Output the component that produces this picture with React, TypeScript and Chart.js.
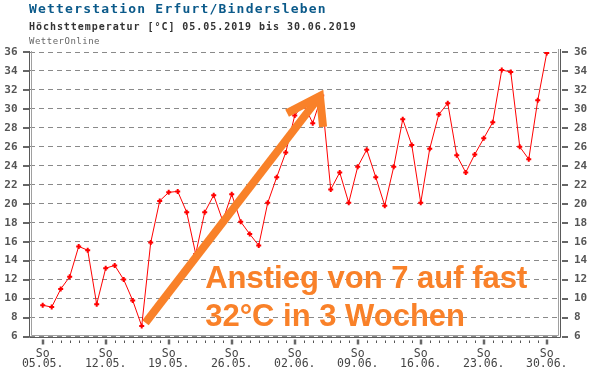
import React, { useEffect, useRef } from "react";
import { Chart, registerables } from "chart.js";

Chart.register(...registerables);

const TITLE = "Wetterstation Erfurt/Bindersleben";
const SUBTITLE = "Höchsttemperatur [°C] 05.05.2019 bis 30.06.2019";
const SOURCE = "WetterOnline";

const dates = [
  "05.05.", "06.05.", "07.05.", "08.05.", "09.05.", "10.05.", "11.05.",
  "12.05.", "13.05.", "14.05.", "15.05.", "16.05.", "17.05.", "18.05.",
  "19.05.", "20.05.", "21.05.", "22.05.", "23.05.", "24.05.", "25.05.",
  "26.05.", "27.05.", "28.05.", "29.05.", "30.05.", "31.05.", "01.06.",
  "02.06.", "03.06.", "04.06.", "05.06.", "06.06.", "07.06.", "08.06.",
  "09.06.", "10.06.", "11.06.", "12.06.", "13.06.", "14.06.", "15.06.",
  "16.06.", "17.06.", "18.06.", "19.06.", "20.06.", "21.06.", "22.06.",
  "23.06.", "24.06.", "25.06.", "26.06.", "27.06.", "28.06.", "29.06.",
  "30.06.",
];

const maxTemp = [
  9.3, 9.1, 11.0, 12.3, 15.5, 15.1, 9.4,
  13.2, 13.5, 12.0, 9.8, 7.1, 15.9, 20.3,
  21.2, 21.3, 19.1, 14.7, 19.1, 20.9, 18.2,
  21.0, 18.1, 16.8, 15.6, 20.1, 22.8, 25.4,
  29.3, 30.5, 28.5, 31.4, 21.5, 23.3, 20.1,
  23.9, 25.7, 22.8, 19.8, 23.9, 28.9, 26.2,
  20.1, 25.8, 29.4, 30.6, 25.1, 23.3, 25.2,
  26.9, 28.6, 34.1, 33.9, 26.0, 24.7, 30.9,
  35.9,
];

// weekly labelled ticks (Sundays)
const weekTickIdx = [0, 7, 14, 21, 28, 35, 42, 49, 56];
const weekdayLabel = "So";

const yMin = 6;
const yMax = 36;
const yStep = 2;

// annotation (in data coordinates: day index, °C)
const annotationLines = ["Anstieg von 7 auf fast", "32°C in 3 Wochen"];
const annotationAnchor = [18.05, 11.1];
const annotationLineStep = 3.95;
const arrowStart = [11.42, 7.45];
const arrowTip = [30.8, 31.35];
const arrowBarbA = [27.15, 29.55];
const arrowBarbB = [31.15, 28.1];

const ORANGE = "#f98129";
const RED = "#ff0000";
const MONO = '"DejaVu Sans Mono", monospace';

const decorPlugin = {
  id: "decor",
  afterDatasetsDraw(chart: any) {
    const { ctx } = chart;
    const x = chart.scales.x;
    const y = chart.scales.y;
    const P = (p: number[]) => [x.getPixelForValue(p[0]), y.getPixelForValue(p[1])];
    ctx.save();
    ctx.strokeStyle = ORANGE;
    ctx.lineWidth = 8;
    ctx.lineCap = "butt";
    ctx.lineJoin = "miter";
    const s = P(arrowStart);
    const t = P(arrowTip);
    const a = P(arrowBarbA);
    const b = P(arrowBarbB);
    ctx.beginPath();
    ctx.moveTo(s[0], s[1]);
    ctx.lineTo(t[0], t[1]);
    ctx.stroke();
    ctx.beginPath();
    ctx.moveTo(a[0], a[1]);
    ctx.lineTo(t[0], t[1]);
    ctx.lineTo(b[0], b[1]);
    ctx.stroke();

    ctx.fillStyle = ORANGE;
    ctx.font = 'bold 31px "Liberation Sans", Arial, sans-serif';
    ctx.textAlign = "left";
    ctx.textBaseline = "alphabetic";
    annotationLines.forEach((line, i) => {
      const p = P([annotationAnchor[0], annotationAnchor[1] - i * annotationLineStep]);
      ctx.fillText(line, p[0], p[1]);
    });
    ctx.restore();
  },
  afterDraw(chart: any) {
    const { ctx, chartArea } = chart;
    const x = chart.scales.x;
    const y = chart.scales.y;
    const { left, right, top, bottom } = chartArea;
    ctx.save();
    // frame (left, right, bottom) double line
    ctx.lineWidth = 1;
    ctx.strokeStyle = "#5a5a5a";
    ctx.beginPath();
    ctx.moveTo(left - 0.5, top - 1);
    ctx.lineTo(left - 0.5, bottom + 1);
    ctx.lineTo(right + 1.5, bottom + 1);
    ctx.lineTo(right + 1.5, top - 3);
    ctx.stroke();
    ctx.strokeStyle = "#a0a0a0";
    ctx.beginPath();
    ctx.moveTo(left + 1.5, top - 1);
    ctx.lineTo(left + 1.5, bottom - 1);
    ctx.lineTo(right - 0.5, bottom - 1);
    ctx.lineTo(right - 0.5, top - 3);
    ctx.stroke();

    // y tick marks both sides
    ctx.strokeStyle = "#666";
    ctx.lineWidth = 2;
    for (let v = yMin; v <= yMax; v += yStep) {
      const py = Math.round(y.getPixelForValue(v));
      ctx.beginPath();
      ctx.moveTo(left - 7, py);
      ctx.lineTo(left - 1, py);
      ctx.moveTo(right + 3, py);
      ctx.lineTo(right + 9, py);
      ctx.stroke();
    }
    // x tick marks: daily minor, weekly major
    dates.forEach((_, i) => {
      const px = Math.round(x.getPixelForValue(i));
      const major = weekTickIdx.includes(i);
      ctx.strokeStyle = major ? "#666" : "#555";
      ctx.lineWidth = major ? 2.5 : 1;
      ctx.beginPath();
      ctx.moveTo(px + (major ? 0 : 0.5), bottom + (major ? 3 : 4));
      ctx.lineTo(px + (major ? 0 : 0.5), bottom + (major ? 8 : 6.5));
      ctx.stroke();
    });

    // header texts
    ctx.textAlign = "left";
    ctx.textBaseline = "alphabetic";
    ctx.fillStyle = "#0b5a8a";
    ctx.font = `bold 13px ${MONO}`;
    (ctx as any).letterSpacing = "1.2px";
    ctx.fillText(TITLE, 29, 12.5);
    ctx.fillStyle = "#333";
    ctx.font = `bold 10px ${MONO}`;
    (ctx as any).letterSpacing = "0.95px";
    ctx.fillText(SUBTITLE, 29, 29.5);
    ctx.fillStyle = "#666";
    ctx.font = `9px ${MONO}`;
    (ctx as any).letterSpacing = "0.5px";
    ctx.fillText(SOURCE, 29, 44);
    (ctx as any).letterSpacing = "0px";
    ctx.restore();
  },
};

export default function App() {
  const ref = useRef<HTMLCanvasElement | null>(null);
  useEffect(() => {
    if (!ref.current) return;
    const chart = new Chart(ref.current, {
      type: "line",
      data: {
        datasets: [
          {
            label: "Höchsttemperatur",
            data: maxTemp.map((v, i) => ({ x: i, y: v })),
            borderColor: RED,
            backgroundColor: RED,
            borderWidth: 1,
            pointStyle: "cross",
            pointRadius: 2.5,
            pointBorderWidth: 2,
            pointBorderColor: RED,
            tension: 0,
          },
        ],
      },
      options: {
        responsive: false,
        animation: false,
        layout: { padding: { top: 52, left: 0, right: 0, bottom: 0 } },
        plugins: {
          legend: { display: false },
          title: { display: false },
          tooltip: { enabled: false },
        },
        scales: {
          x: {
            type: "linear",
            position: "bottom",
            min: -1.41,
            max: 57.36,
            grid: { display: false, drawTicks: false },
            border: { display: false },
            afterBuildTicks: (scale: any) => {
              scale.ticks = weekTickIdx.map((v) => ({ value: v }));
            },
            afterFit: (scale: any) => {
              scale.height = 41.5;
            },
            ticks: {
              autoSkip: false,
              maxRotation: 0,
              padding: 13,
              color: "#444",
              font: { family: MONO, size: 11.5, lineHeight: "9.5px" as any },
              callback: (value: any) => [weekdayLabel, dates[value as number]],
            },
          },
          y: {
            type: "linear",
            position: "left",
            min: yMin,
            max: yMax,
            afterFit: (scale: any) => {
              scale.width = 30;
            },
            grid: { color: "#8a8a8a", lineWidth: 1, drawTicks: false },
            border: { display: false, dash: [5, 4] },
            ticks: {
              stepSize: yStep,
              padding: 12.5,
              color: "#555",
              font: { family: MONO, size: 11, weight: "bold" },
            },
          },
          y2: {
            type: "linear",
            position: "right",
            min: yMin,
            max: yMax,
            afterFit: (scale: any) => {
              scale.width = 32;
            },
            grid: { display: false, drawTicks: false },
            border: { display: false },
            ticks: {
              stepSize: yStep,
              padding: 15,
              color: "#555",
              font: { family: MONO, size: 11, weight: "bold" },
            },
          },
        },
      },
      plugins: [decorPlugin],
    } as any);
    return () => chart.destroy();
  }, []);
  return (
    <div style={{ position: "fixed", left: 0, top: 0, width: 591, height: 378, background: "#fff" }}>
      <canvas ref={ref} width={591} height={378} style={{ display: "block" }} />
    </div>
  );
}
